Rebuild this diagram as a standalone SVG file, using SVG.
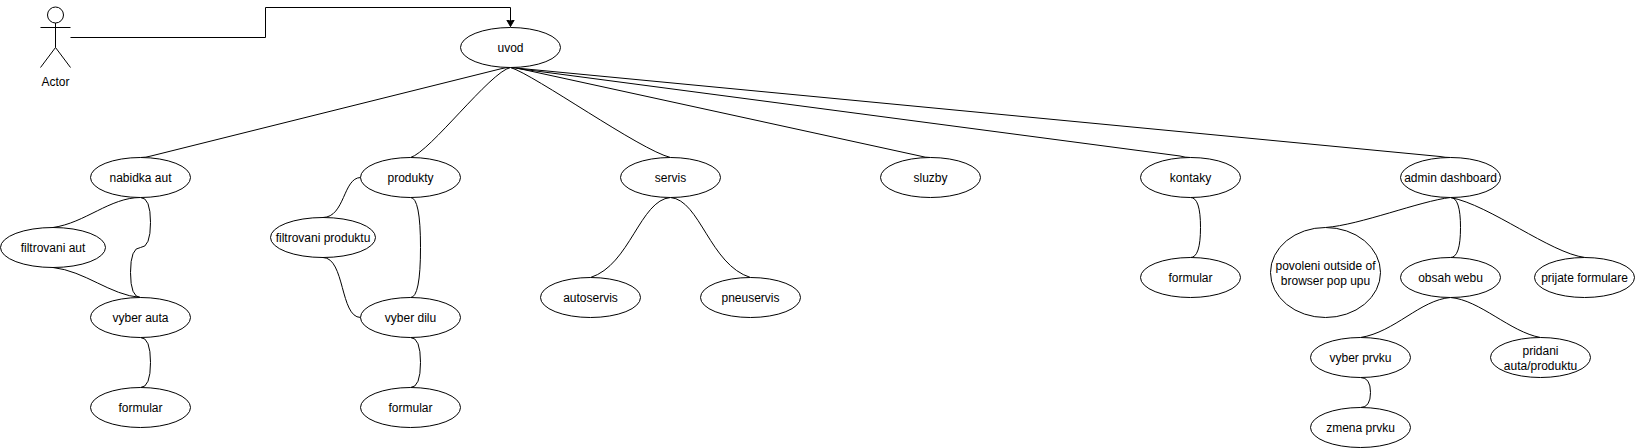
<svg xmlns="http://www.w3.org/2000/svg" width="1635" height="448" viewBox="0 0 1635 448">
<style>
.n{fill:#fff;stroke:#000;stroke-width:1}
.a{fill:none;stroke:#000;stroke-width:1}
.e{fill:none;stroke:#000;stroke-width:1}
text{font-family:"Liberation Sans",Arial,sans-serif;font-size:12px;fill:#000;text-anchor:middle}
</style>
<defs><marker id="arr" markerUnits="userSpaceOnUse" markerWidth="10" markerHeight="10" refX="7" refY="4" orient="auto"><path d="M0 0L7 4L0 8L1.75 4Z" fill="#000" stroke="#000"/></marker></defs>
<rect width="1635" height="448" fill="#fff"/>
<g id="connectors">
<path class="e" marker-end="url(#arr)" d="M70.5 37.5H265.5V7.5H510.5V26.5"/>
<path class="e" d="M510.5 67.5Q505 67.5 500 69L151 156Q146 157.5 140.5 157.5"/>
<path class="e" d="M510.5 67.5C490 72 430 152 410.5 157.5"/>
<path class="e" d="M510.5 67.5C535 75 640 150 670.5 157.5"/>
<path class="e" d="M510.5 67.5Q516 67.5 521 69L920 156Q925 157.5 930.5 157.5"/>
<path class="e" d="M510.5 67.5Q516 67.5 521 69L1180 156Q1185 157.5 1190.5 157.5"/>
<path class="e" d="M510.5 67.5Q516 67.5 521 68.5L1440 156.5Q1445 157.5 1450.5 157.5"/>
<path class="e" d="M140.5 197.5C110 197.5 85 223 53 227.5"/>
<path class="e" d="M140.5 197.5Q150.5 197.5 150.5 222.5Q150.5 247.5 140.5 247.5Q130.5 247.5 130.5 272.5Q130.5 297.5 140.5 297.5"/>
<path class="e" d="M53 267.5C85 271 110 295 140.5 297.5"/>
<path class="e" d="M140.5 337.5Q150.5 337.5 150.5 362.5Q150.5 387.5 140.5 387.5"/>
<path class="e" d="M360.5 177.5C343 178 345 217 323 217.5"/>
<path class="e" d="M410.5 197.5Q420.5 197.5 420.5 247.5Q420.5 297.5 410.5 297.5"/>
<path class="e" d="M323 257.5C345 258 340 317 360.5 317.5"/>
<path class="e" d="M410.5 337.5Q420.5 337.5 420.5 362.5Q420.5 387.5 410.5 387.5"/>
<path class="e" d="M670.5 197.5C640 200 630 265 590.5 277.5"/>
<path class="e" d="M670.5 197.5C700 200 710 265 750.5 277.5"/>
<path class="e" d="M1190.5 197.5Q1200.5 197.5 1200.5 227.5Q1200.5 257.5 1190.5 257.5"/>
<path class="e" d="M1450.5 197.5C1420 201 1360 225 1325.5 227.5"/>
<path class="e" d="M1450.5 197.5Q1460.5 197.5 1460.5 227.5Q1460.5 257.5 1450.5 257.5"/>
<path class="e" d="M1450.5 197.5C1490 205 1550 253 1585 257.5"/>
<path class="e" d="M1450.5 297.5C1420 300 1395 332 1360.5 337.5"/>
<path class="e" d="M1450.5 297.5C1480 300 1510 332 1540.5 337.5"/>
<path class="e" d="M1360.5 377.5Q1370.5 377.5 1370.5 392.5Q1370.5 407.5 1360.5 407.5"/>
</g>
<g id="actor"><circle class="a" cx="55.5" cy="15" r="8"/><path class="a" d="M55.5 23V47.5M40.5 27.5H70.5M40.5 67.5L55.5 47.5L70.5 67.5"/><text x="55.5" y="86">Actor</text></g>
<g id="uvod"><ellipse class="n" cx="510.5" cy="47.5" rx="50" ry="20"/><text x="510.5" y="52">uvod</text></g>
<g id="nabidka-aut"><ellipse class="n" cx="140.5" cy="177.5" rx="50" ry="20"/><text x="140.5" y="182">nabidka aut</text></g>
<g id="filtrovani-aut"><ellipse class="n" cx="53" cy="247.5" rx="52.5" ry="20"/><text x="53" y="252">filtrovani aut</text></g>
<g id="vyber-auta"><ellipse class="n" cx="140.5" cy="317.5" rx="50" ry="20"/><text x="140.5" y="322">vyber auta</text></g>
<g id="formular-1"><ellipse class="n" cx="140.5" cy="407.5" rx="50" ry="20"/><text x="140.5" y="412">formular</text></g>
<g id="produkty"><ellipse class="n" cx="410.5" cy="177.5" rx="50" ry="20"/><text x="410.5" y="182">produkty</text></g>
<g id="filtrovani-produktu"><ellipse class="n" cx="323" cy="237.5" rx="52.5" ry="20"/><text x="323" y="242">filtrovani produktu</text></g>
<g id="vyber-dilu"><ellipse class="n" cx="410.5" cy="317.5" rx="50" ry="20"/><text x="410.5" y="322">vyber dilu</text></g>
<g id="formular-2"><ellipse class="n" cx="410.5" cy="407.5" rx="50" ry="20"/><text x="410.5" y="412">formular</text></g>
<g id="servis"><ellipse class="n" cx="670.5" cy="177.5" rx="50" ry="20"/><text x="670.5" y="182">servis</text></g>
<g id="autoservis"><ellipse class="n" cx="590.5" cy="297.5" rx="50" ry="20"/><text x="590.5" y="302">autoservis</text></g>
<g id="pneuservis"><ellipse class="n" cx="750.5" cy="297.5" rx="50" ry="20"/><text x="750.5" y="302">pneuservis</text></g>
<g id="sluzby"><ellipse class="n" cx="930.5" cy="177.5" rx="50" ry="20"/><text x="930.5" y="182">sluzby</text></g>
<g id="kontaky"><ellipse class="n" cx="1190.5" cy="177.5" rx="50" ry="20"/><text x="1190.5" y="182">kontaky</text></g>
<g id="formular-3"><ellipse class="n" cx="1190.5" cy="277.5" rx="50" ry="20"/><text x="1190.5" y="282">formular</text></g>
<g id="admin-dashboard"><ellipse class="n" cx="1450.5" cy="177.5" rx="50" ry="20"/><text x="1450.5" y="182">admin dashboard</text></g>
<g id="povoleni"><ellipse class="n" cx="1325.5" cy="272.5" rx="55" ry="45"/><text x="1325.5" y="270">povoleni outside of</text><text x="1325.5" y="285">browser pop upu</text></g>
<g id="obsah-webu"><ellipse class="n" cx="1450.5" cy="277.5" rx="50" ry="20"/><text x="1450.5" y="282">obsah webu</text></g>
<g id="prijate-formulare"><ellipse class="n" cx="1584.5" cy="277.5" rx="50" ry="20"/><text x="1584.5" y="282">prijate formulare</text></g>
<g id="vyber-prvku"><ellipse class="n" cx="1360.5" cy="357.5" rx="50" ry="20"/><text x="1360.5" y="362">vyber prvku</text></g>
<g id="zmena-prvku"><ellipse class="n" cx="1360.5" cy="427.5" rx="50" ry="20"/><text x="1360.5" y="432">zmena prvku</text></g>
<g id="pridani"><ellipse class="n" cx="1540.5" cy="357.5" rx="50" ry="20"/><text x="1540.5" y="355">pridani</text><text x="1540.5" y="370">auta/produktu</text></g>
</svg>
